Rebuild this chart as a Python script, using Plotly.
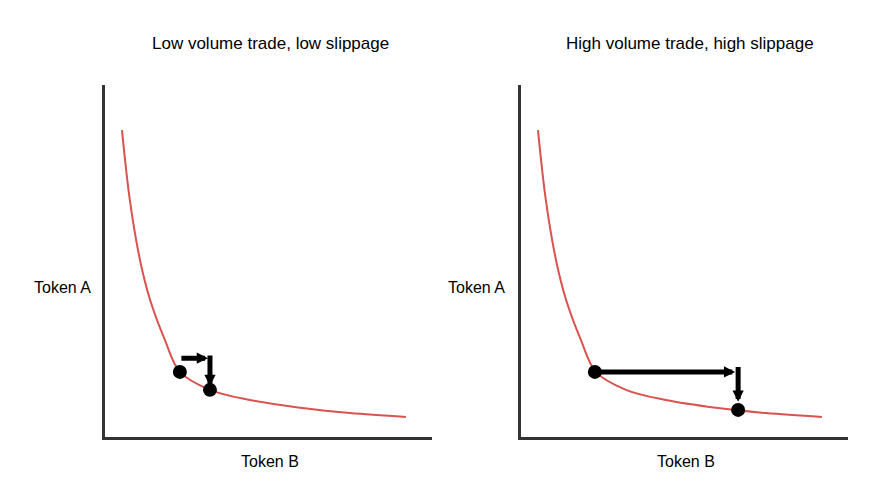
import plotly.graph_objects as go

curve_x = [0.52, 0.76, 1.07, 1.38, 1.83, 2.29, 3.21, 4.43, 5.96, 7.49, 9.2]
curve_y = [8.72, 6.73, 5.03, 3.89, 2.76, 1.85, 1.34, 1.05, 0.83, 0.68, 0.57]
left_dots_x = [2.29, 3.21]
left_dots_y = [1.85, 1.34]
right_dots_x = [2.26, 6.64]
right_dots_y = [1.85, 0.77]
titles = ["Low volume trade, low slippage", "High volume trade, high slippage"]

W, H, OFF = 872, 482, 8
def px(x): return (x - OFF) / W
def py(y): return 1 - (y - OFF) / H

fig = go.Figure()
for i, (dx, dy) in enumerate([(left_dots_x, left_dots_y), (right_dots_x, right_dots_y)]):
    xa = "x" if i == 0 else "x2"
    ya = "y" if i == 0 else "y2"
    fig.add_trace(go.Scatter(x=curve_x, y=curve_y, mode="lines", line=dict(color="#d9534f", width=2, shape="spline"),
                             xaxis=xa, yaxis=ya, hoverinfo="skip"))
    fig.add_trace(go.Scatter(x=dx, y=dy, mode="markers", marker=dict(color="black", size=14),
                             xaxis=xa, yaxis=ya))

arrows = [("x", "y", 2.29, 2.24, 3.15, 2.24), ("x", "y", 3.21, 2.36, 3.21, 1.45),
          ("x2", "y2", 2.40, 1.85, 6.55, 1.85), ("x2", "y2", 6.64, 2.03, 6.64, 1.0)]
for xr, yr, x0, y0, x1, y1 in arrows:
    fig.add_annotation(x=x1, y=y1, ax=x0, ay=y0, xref=xr, yref=yr, axref=xr, ayref=yr,
                       showarrow=True, arrowhead=2, arrowsize=0.45, arrowwidth=5, arrowcolor="black", text="")

ax = dict(range=[0, 10], showline=True, linewidth=3, linecolor="#333", showgrid=False,
          zeroline=False, showticklabels=False, ticks="")
ydom = [py(437), py(85)]
fig.update_layout(
    width=W, height=H, margin=dict(l=0, r=0, t=0, b=0), showlegend=False,
    plot_bgcolor="white", paper_bgcolor="white",
    font=dict(family="Arial, Liberation Sans", size=16, color="black"),
    xaxis=dict(ax, domain=[px(105), px(432)], anchor="y"),
    yaxis=dict(ax, domain=ydom, anchor="x"),
    xaxis2=dict(ax, domain=[px(521), px(848)], anchor="y2"),
    yaxis2=dict(ax, domain=ydom, anchor="x2"),
)
for cx, t in zip([270, 690], titles):
    fig.add_annotation(x=px(cx), y=py(44), xref="paper", yref="paper", text=t, showarrow=False,
                       xanchor="center", yanchor="middle", font=dict(size=17))
for cx in [62, 476]:
    fig.add_annotation(x=px(cx), y=py(287), xref="paper", yref="paper", text="Token A", showarrow=False,
                       xanchor="center", yanchor="middle")
for cx in [270, 686]:
    fig.add_annotation(x=px(cx), y=py(461), xref="paper", yref="paper", text="Token B", showarrow=False,
                       xanchor="center", yanchor="middle")

fig.write_html("out.html")
